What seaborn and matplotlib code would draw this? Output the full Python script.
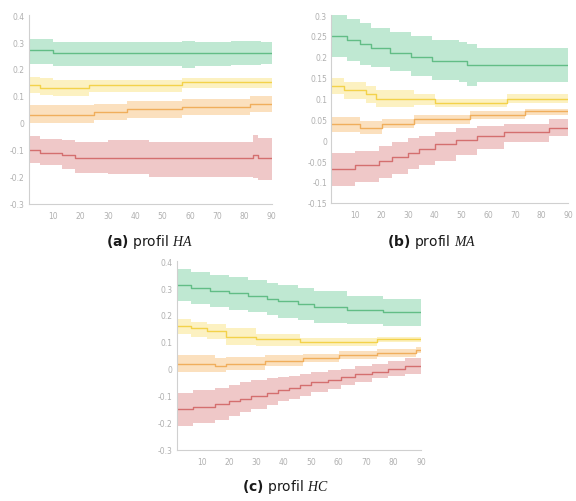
import matplotlib
matplotlib.use("Agg")
import matplotlib.pyplot as plt
import numpy as np
import pandas as pd
import seaborn as sns

# step segments: (x_start, mean, lower, upper); each holds until the next start
X_END = 90

HA_GREEN = [(1, .27, .22, .31), (10, .26, .21, .30), (57, .26, .205, .305),
            (62, .26, .21, .30), (75, .26, .215, .305), (86, .26, .22, .30)]
HA_YELLOW = [(1, .14, .11, .17), (5, .13, .105, .165), (10, .13, .10, .16),
             (23, .14, .115, .16), (57, .15, .13, .165)]
HA_ORANGE = [(1, .03, .0, .065), (25, .04, .01, .07), (37, .05, .02, .08),
             (57, .06, .03, .09), (82, .07, .04, .10)]
HA_RED = [(1, -.10, -.15, -.05), (5, -.11, -.155, -.06), (13, -.12, -.17, -.065),
          (18, -.13, -.185, -.07), (30, -.13, -.19, -.065), (45, -.13, -.2, -.07),
          (83, -.12, -.205, -.045), (85, -.13, -.21, -.055)]

MA_GREEN = [(1, .25, .20, .30), (7, .24, .19, .29), (12, .23, .18, .28),
            (16, .22, .175, .27), (23, .21, .165, .26), (31, .20, .155, .25),
            (39, .19, .145, .24), (49, .19, .14, .235), (52, .18, .13, .23),
            (56, .18, .14, .22)]
MA_YELLOW = [(1, .13, .11, .15), (6, .12, .10, .14), (14, .11, .09, .13),
             (18, .10, .08, .12), (32, .10, .085, .11), (40, .09, .08, .10),
             (67, .10, .09, .11)]
MA_ORANGE = [(1, .04, .02, .055), (12, .03, .015, .045), (20, .04, .03, .05),
             (32, .05, .04, .06), (53, .06, .05, .07), (74, .07, .06, .075)]
MA_RED = [(1, -.07, -.11, -.03), (10, -.06, -.10, -.025), (19, -.05, -.09, -.015),
          (24, -.04, -.08, -.005), (30, -.03, -.07, .005), (34, -.02, -.06, .01),
          (40, -.01, -.05, .02), (48, .0, -.035, .03), (56, .01, -.02, .035),
          (66, .02, -.005, .04), (83, .03, .01, .05)]

HC_GREEN = [(1, .31, .25, .37), (6, .30, .24, .36), (13, .29, .23, .35),
            (20, .28, .22, .34), (27, .27, .21, .33), (34, .26, .20, .32),
            (38, .25, .19, .31), (45, .24, .18, .30), (51, .23, .17, .29),
            (63, .22, .165, .27), (76, .21, .16, .26)]
HC_YELLOW = [(1, .16, .13, .185), (6, .15, .12, .175), (12, .14, .11, .165),
             (19, .12, .09, .15), (30, .11, .085, .13), (46, .10, .085, .115),
             (74, .11, .10, .12)]
HC_ORANGE = [(1, .02, -.01, .05), (15, .01, -.01, .04), (19, .02, -.005, .045),
             (33, .03, .01, .05), (47, .04, .025, .055), (60, .05, .035, .065),
             (74, .06, .045, .075), (88, .07, .06, .08)]
HC_RED = [(1, -.15, -.21, -.09), (7, -.14, -.20, -.08), (15, -.13, -.19, -.07),
          (20, -.12, -.175, -.06), (24, -.11, -.16, -.05), (28, -.10, -.15, -.04),
          (34, -.09, -.135, -.035), (38, -.08, -.12, -.03), (42, -.07, -.11, -.025),
          (46, -.06, -.10, -.02), (50, -.05, -.085, -.01), (56, -.04, -.075, -.005),
          (61, -.03, -.06, .0), (66, -.02, -.05, .01), (72, -.01, -.035, .02),
          (78, .0, -.025, .03), (84, .01, -.02, .04)]

# (line colour, band colour)
COLORS = {
    "green": ("#62bd86", "#b4e5cb"),
    "yellow": ("#f3d24a", "#fcefb6"),
    "orange": ("#f0ae5c", "#fbdbb3"),
    "red": ("#d46f6f", "#edbfbf"),
}

PANELS = [
    {"series": [HA_GREEN, HA_YELLOW, HA_ORANGE, HA_RED],
     "ylim": (-0.3, 0.4), "yticks": np.arange(-0.3, 0.41, 0.1),
     "pos": [0.050, 0.592, 0.422, 0.376],
     "caption": r"$\mathbf{(a)}$ profil $HA$", "cap_xy": (0.26, 0.518)},
    {"series": [MA_GREEN, MA_YELLOW, MA_ORANGE, MA_RED],
     "ylim": (-0.15, 0.3), "yticks": np.arange(-0.15, 0.31, 0.05),
     "pos": [0.575, 0.594, 0.411, 0.374],
     "caption": r"$\mathbf{(b)}$ profil $MA$", "cap_xy": (0.75, 0.518)},
    {"series": [HC_GREEN, HC_YELLOW, HC_ORANGE, HC_RED],
     "ylim": (-0.3, 0.4), "yticks": np.arange(-0.3, 0.41, 0.1),
     "pos": [0.307, 0.102, 0.424, 0.376],
     "caption": r"$\mathbf{(c)}$ profil $HC$", "cap_xy": (0.495, 0.030)},
]

sns.set_theme(style="white")
plt.rcParams["font.family"] = ["DejaVu Sans"]
plt.rcParams["axes.unicode_minus"] = False
plt.rcParams["mathtext.fontset"] = "custom"
plt.rcParams["mathtext.it"] = "Liberation Serif:italic"
plt.rcParams["mathtext.rm"] = "DejaVu Sans"
plt.rcParams["mathtext.bf"] = "DejaVu Sans:bold"


def to_frame(segments):
    df = pd.DataFrame(segments, columns=["x", "mean", "lo", "hi"])
    last = df.iloc[[-1]].copy()
    last["x"] = X_END
    return pd.concat([df, last], ignore_index=True)


fig = plt.figure(figsize=(5.76, 5.02), dpi=100)
for panel in PANELS:
    ax = fig.add_axes(panel["pos"])
    for segs, name in zip(panel["series"], COLORS):
        line_c, band_c = COLORS[name]
        df = to_frame(segs)
        ax.fill_between(df["x"], df["lo"], df["hi"], step="post",
                        color=band_c, lw=0, alpha=0.85)
        sns.lineplot(data=df, x="x", y="mean", ax=ax, color=line_c,
                     drawstyle="steps-post", lw=1.0)
    ax.set_xlim(1, X_END)
    ax.set_ylim(*panel["ylim"])
    ax.set_xticks(range(10, 91, 10))
    ax.set_yticks(panel["yticks"])
    ax.set_yticklabels([f"{round(v, 2):g}" for v in panel["yticks"]])
    ax.set_xlabel("")
    ax.set_ylabel("")
    sns.despine(ax=ax)
    for side in ("left", "bottom"):
        ax.spines[side].set_color("#d0d0d0")
        ax.spines[side].set_linewidth(0.8)
    ax.tick_params(axis="both", labelsize=5.5, colors="#b0b0b0", length=2,
                   width=0.6, pad=3)
    ax.tick_params(axis="y", length=0)
    fig.text(*panel["cap_xy"], panel["caption"], ha="center", va="center",
             fontsize=10, color="#1a1a1a")

fig.savefig("out.png", dpi=100)
